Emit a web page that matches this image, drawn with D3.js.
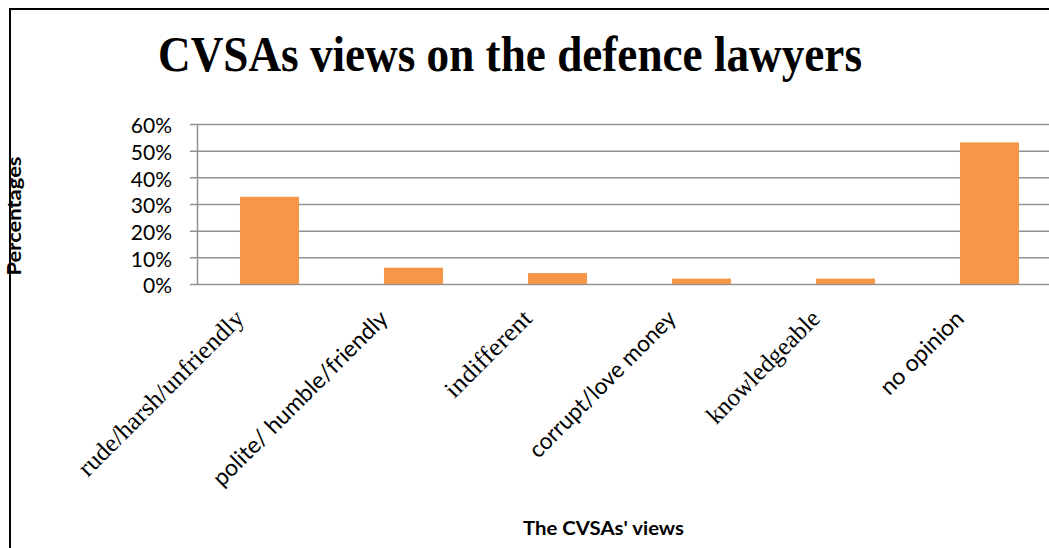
<!DOCTYPE html>
<html>
<head>
<meta charset="utf-8">
<script src="https://cdn.jsdelivr.net/npm/d3@7"></script>
<style>
  body { margin: 0; background: #fff; }
  svg { display: block; }
</style>
</head>
<body>
<div id="chart"></div>
<script>
const categories = ["rude/harsh/unfriendly", "polite/ humble/friendly", "indifferent", "corrupt/love money", "knowledgeable", "no opinion"];
const values = [0.327, 0.061, 0.041, 0.02, 0.02, 0.531];
const tickValues = [0, 0.1, 0.2, 0.3, 0.4, 0.5, 0.6];
// the source mixes a serif face into some labels
const serifLabels = ["rude/harsh/unfriendly", "indifferent", "knowledgeable"];
const labelLengths = [223, 237, 112, 197, 149, 108];

const width = 1049, height = 548;
const plot = { left: 197.5, right: 1061.5, top: 124, bottom: 284 };

const svg = d3.select("#chart")
    .append("svg")
    .attr("width", width)
    .attr("height", height);

// outer frame (cropped on the right and bottom)
svg.append("path")
    .attr("d", "M10," + height + "V9H" + width)
    .attr("fill", "none")
    .attr("stroke", "black")
    .attr("stroke-width", 2);

const x = d3.scaleBand()
    .domain(categories)
    .range([plot.left, plot.right])
    .paddingInner(0.59)
    .paddingOuter(0.295);

const y = d3.scaleLinear()
    .domain([0, 0.6])
    .range([plot.bottom, plot.top]);

// gridlines + ticks + labels
const yAxis = svg.append("g")
    .attr("transform", "translate(190,0)")
    .call(d3.axisLeft(y)
        .tickValues(tickValues)
        .tickSize(-(plot.right - 190))
        .tickPadding(18)
        .tickFormat(d3.format(".0%")));

yAxis.select(".domain").remove();
yAxis.selectAll(".tick line")
    .attr("stroke", "#919191")
    .attr("stroke-width", 1.5);
yAxis.selectAll(".tick text")
    .attr("dy", "0.42em")
    .style("font-family", "Lato, 'Open Sans', sans-serif")
    .style("font-size", "21px")
    .attr("fill", "#000");

svg.append("line")
    .attr("x1", plot.left)
    .attr("x2", plot.left)
    .attr("y1", plot.top)
    .attr("y2", plot.bottom)
    .attr("stroke", "#919191")
    .attr("stroke-width", 1.5);

svg.selectAll(".bar")
    .data(values)
    .enter().append("rect")
    .attr("class", "bar")
    .attr("x", (d, i) => x(categories[i]))
    .attr("y", d => y(d))
    .attr("width", x.bandwidth())
    .attr("height", d => y(0) - y(d))
    .attr("fill", "#F79646");

// rotated category labels
svg.selectAll(".cat")
    .data(categories)
    .enter().append("text")
    .attr("class", "cat")
    .attr("transform", d => "translate(" + (x(d) + x.bandwidth() / 2 - 24) + ",320) rotate(-45)")
    .attr("text-anchor", "end")
    .attr("textLength", (d, i) => labelLengths[i])
    .attr("lengthAdjust", "spacingAndGlyphs")
    .style("font-family", d => serifLabels.includes(d) ? "'Liberation Serif', 'Times New Roman', serif" : "Lato, 'Open Sans', sans-serif")
    .style("font-size", d => serifLabels.includes(d) ? "25px" : "23px")
    .text(d => d);

svg.append("text")
    .attr("x", 158)
    .attr("y", 71)
    .attr("textLength", 704)
    .attr("lengthAdjust", "spacingAndGlyphs")
    .text("CVSAs views on the defence lawyers")
    .style("font-family", "'Liberation Serif', 'Times New Roman', serif")
    .style("font-weight", "bold")
    .style("font-size", "51px");

svg.append("text")
    .attr("transform", "rotate(-90)")
    .attr("x", -216)
    .attr("y", 21)
    .attr("text-anchor", "middle")
    .attr("textLength", 119)
    .attr("lengthAdjust", "spacingAndGlyphs")
    .text("Percentages")
    .style("font-family", "Lato, 'Open Sans', sans-serif")
    .style("font-weight", "bold")
    .style("font-size", "19px");

svg.append("text")
    .attr("x", 603.5)
    .attr("y", 535)
    .attr("text-anchor", "middle")
    .attr("textLength", 161)
    .attr("lengthAdjust", "spacingAndGlyphs")
    .text("The CVSAs' views")
    .style("font-family", "Lato, 'Open Sans', sans-serif")
    .style("font-weight", "bold")
    .style("font-size", "19px");
</script>
</body>
</html>
